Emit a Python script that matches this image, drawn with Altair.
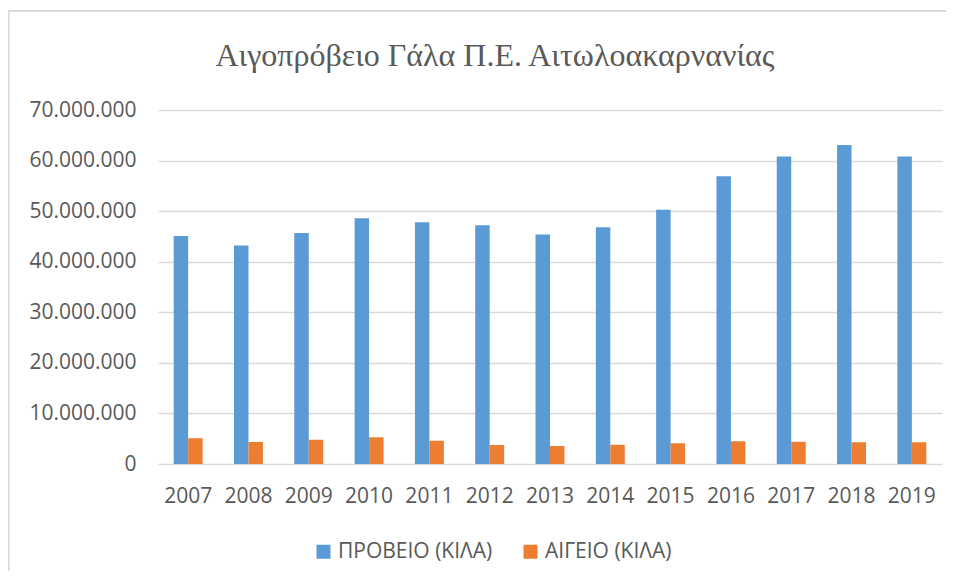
import altair as alt
import pandas as pd

years = ["2007", "2008", "2009", "2010", "2011", "2012", "2013",
         "2014", "2015", "2016", "2017", "2018", "2019"]
provio = [45100000, 43200000, 45700000, 48600000, 47800000, 47200000, 45400000,
          46800000, 50300000, 56900000, 60800000, 63100000, 60800000]
aigeio = [5100000, 4350000, 4800000, 5280000, 4600000, 3760000, 3550000,
          3800000, 4100000, 4500000, 4400000, 4300000, 4300000]
series = ["ΠΡΟΒΕΙΟ (ΚΙΛΑ)", "ΑΙΓΕΙΟ (ΚΙΛΑ)"]
colors = ["#5B9BD5", "#ED7D31"]
title_text = "Αιγοπρόβειο Γάλα Π.Ε. Αιτωλοακαρνανίας"

rows = []
for i, y in enumerate(years):
    rows.append({"year": y, "series": series[0], "value": provio[i]})
    rows.append({"year": y, "series": series[1], "value": aigeio[i]})
df = pd.DataFrame(rows)

grey = "#595959"
font = "Open Sans"

bars = alt.Chart(df).mark_bar().encode(
    x=alt.X("year:N", sort=years,
            scale=alt.Scale(paddingInner=0.52, paddingOuter=0.26),
            axis=alt.Axis(title=None, labelAngle=0, ticks=False, domain=False,
                          labelFont=font, labelFontSize=21, labelColor=grey,
                          labelPadding=21, grid=False)),
    xOffset=alt.XOffset("series:N", sort=series,
                        scale=alt.Scale(paddingInner=0, paddingOuter=0)),
    y=alt.Y("value:Q",
            scale=alt.Scale(domain=[0, 70000000], nice=False),
            axis=alt.Axis(title=None, values=[0, 10000000, 20000000, 30000000,
                                              40000000, 50000000, 60000000, 70000000],
                          format=",d", ticks=False, domain=False,
                          labelFont=font, labelFontSize=21, labelColor=grey,
                          labelPadding=22, gridColor="#d9d9d9", gridWidth=1.5)),
    color=alt.Color("series:N", sort=series,
                    scale=alt.Scale(domain=series, range=colors),
                    legend=alt.Legend(title=None, orient="none", legendX=155, legendY=431,
                                      direction="horizontal", symbolType="square",
                                      symbolSize=196, symbolStrokeWidth=0,
                                      labelFont=font, labelFontSize=21,
                                      labelColor=grey, columnPadding=27,
                                      labelOffset=4)),
)

frame = alt.Data(values=[{}])
top_line = alt.Chart(frame).mark_rule(color="#d9d9d9", strokeWidth=2).encode(
    x=alt.value(-150), x2=alt.value(820), y=alt.value(-99),
)
left_line = alt.Chart(frame).mark_rule(color="#d9d9d9", strokeWidth=2).encode(
    x=alt.value(-149.5), y=alt.value(-99), y2=alt.value(470),
)

chart = alt.layer(top_line, left_line, bars).properties(
    width=784, height=354,
    title=alt.TitleParams(title_text, font="Liberation Serif", fontSize=32,
                          fontWeight="normal", color=grey, anchor="middle",
                          dx=-55, offset=-88, baseline="alphabetic"),
    autosize=alt.AutoSizeParams(type="none"),
    padding={"left": 150, "top": 102, "right": 4, "bottom": 107},
).configure(
    locale={"number": {"decimal": ",", "thousands": ".", "grouping": [3],
                       "currency": ["", " €"]}}
).configure_view(stroke=None)

chart.save("out.html", embed_options={"renderer": "svg", "actions": False})
